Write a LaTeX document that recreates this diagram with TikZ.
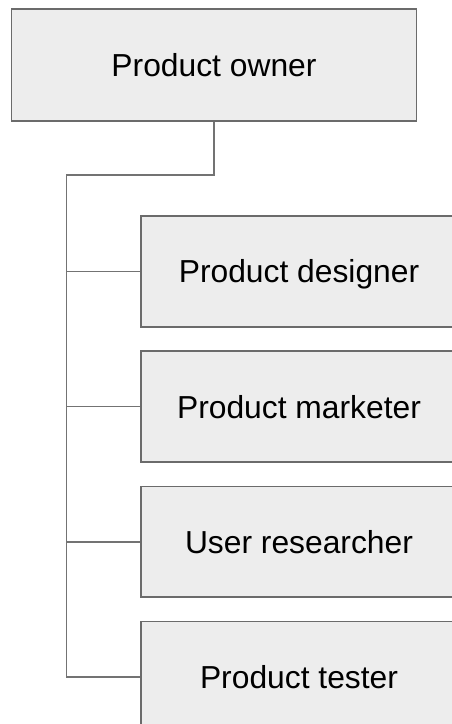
\documentclass[tikz,border=0pt]{standalone}
\usepackage{fontspec}
\setmainfont{Liberation Sans}
\usetikzlibrary{positioning}
\colorlet{boxfill}{black!7}
\colorlet{boxline}{black!58}
\colorlet{linkline}{black!55}

\begin{document}
\begin{tikzpicture}[x=1pt,y=1pt]
\tikzset{RoleStyle/.style ={draw=boxline, fill=boxfill, line width=1.6pt,
  inner sep=0, minimum width=316pt, minimum height=110.7pt,
  text height=22.8pt, text depth=0pt,
  font=\fontsize{31.8}{38}\selectfont}}
\tikzset{LinkStyle/.style ={draw=linkline, line width=1.6pt}}
\clip (0,0) rectangle (452,-724);
\useasboundingbox (0,0) rectangle (452,-724);
\node[RoleStyle, minimum width=405pt, minimum height=111.7pt] (owner) at (214,-65) {Product owner};
\node[RoleStyle] (designer) at (299,-271.5) {Product designer};
\node[RoleStyle, below=22.8pt of designer] (marketer) {Product marketer};
\node[RoleStyle, below=22.8pt of marketer] (researcher) {User researcher};
\node[RoleStyle, below=22.8pt of researcher] (tester) {Product tester};
\coordinate (trunk) at (66.5,-175);
\draw[LinkStyle] (owner.south) |- (trunk) |- (tester.west);
\foreach \role in {designer,marketer,researcher}
  \draw[LinkStyle] (trunk |- \role.west) -- (\role.west);
\end{tikzpicture}
\end{document}
